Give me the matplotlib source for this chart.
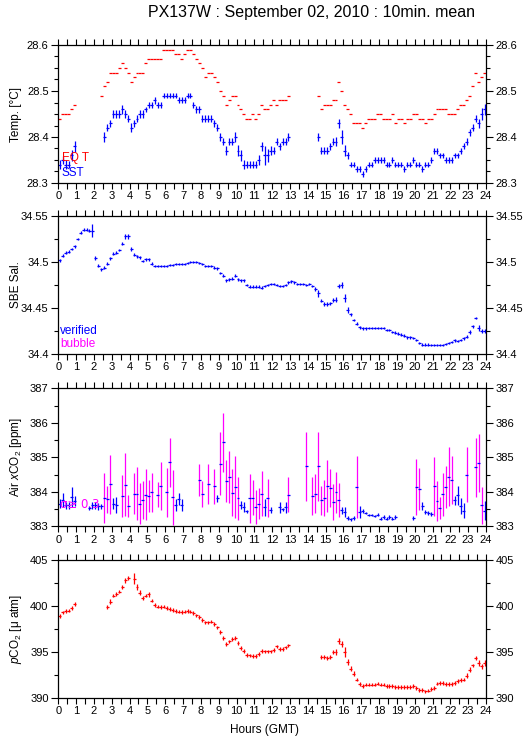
import numpy as np
import matplotlib
matplotlib.use("Agg")
import matplotlib.pyplot as plt
from matplotlib.ticker import MultipleLocator, FuncFormatter

plt.rcParams['font.family'] = ['Liberation Sans', 'DejaVu Sans']
plt.rcParams['mathtext.fontset'] = 'custom'
plt.rcParams['mathtext.rm'] = 'Liberation Sans'
plt.rcParams['mathtext.it'] = 'Liberation Sans:italic'

nan = np.nan
NONE = [nan] * 6

# 10-minute means, one row of six values per hour (GMT)
eq_temp = [
    [28.44, 28.45, 28.45, 28.45, 28.46, 28.47],
    NONE,
    [nan, nan, 28.49, 28.51, 28.52, 28.54],
    [28.54, 28.54, 28.55, 28.56, 28.55, 28.54],
    [28.52, 28.53, 28.54, 28.54, 28.54, 28.56],
    [28.57, 28.57, 28.57, 28.57, 28.57, 28.59],
    [28.59, 28.59, 28.59, 28.58, 28.58, 28.57],
    [28.58, 28.59, 28.59, 28.58, 28.57, 28.56],
    [28.55, 28.53, 28.54, 28.54, 28.53, 28.52],
    [28.50, 28.49, 28.47, 28.48, 28.49, 28.49],
    [28.47, 28.46, 28.45, 28.44, 28.44, 28.45],
    [28.44, 28.45, 28.47, 28.46, 28.46, 28.47],
    [28.48, 28.47, 28.48, 28.48, 28.48, 28.49],
    NONE,
    [nan, nan, nan, 28.49, 28.46, 28.47],
    [28.47, 28.47, 28.48, 28.48, 28.52, 28.50],
    [28.47, 28.46, 28.45, 28.43, 28.43, 28.43],
    [28.42, 28.43, 28.44, 28.44, 28.44, 28.45],
    [28.45, 28.44, 28.44, 28.44, 28.45, 28.43],
    [28.44, 28.44, 28.43, 28.44, 28.44, 28.45],
    [28.45, 28.44, 28.44, 28.43, 28.44, 28.44],
    [28.45, 28.46, 28.46, 28.46, 28.46, 28.45],
    [28.45, 28.45, 28.46, 28.47, 28.47, 28.48],
    [28.49, 28.51, 28.54, 28.52, 28.53, 28.54],
]

sst = [
    [28.34, 28.35, 28.34, 28.34, 28.36, 28.38],
    NONE,
    [nan, nan, nan, 28.40, 28.42, 28.43],
    [28.45, 28.45, 28.45, 28.46, 28.45, 28.44],
    [28.42, 28.43, 28.44, 28.45, 28.45, 28.46],
    [28.47, 28.47, 28.48, 28.47, 28.47, 28.49],
    [28.49, 28.49, 28.49, 28.49, 28.48, 28.48],
    [28.48, 28.49, 28.49, 28.47, 28.46, 28.46],
    [28.44, 28.44, 28.44, 28.44, 28.43, 28.42],
    [28.40, 28.39, 28.37, 28.39, 28.39, 28.40],
    [28.37, 28.36, 28.34, 28.34, 28.34, 28.34],
    [28.34, 28.35, 28.38, 28.36, 28.36, 28.37],
    [28.37, 28.39, 28.38, 28.39, 28.39, 28.40],
    NONE,
    [nan, nan, nan, 28.40, 28.37, 28.37],
    [28.37, 28.38, 28.39, 28.39, 28.43, 28.40],
    [28.37, 28.36, 28.34, 28.34, 28.33, 28.33],
    [28.32, 28.33, 28.34, 28.34, 28.35, 28.35],
    [28.35, 28.35, 28.34, 28.34, 28.35, 28.34],
    [28.34, 28.34, 28.33, 28.34, 28.34, 28.35],
    [28.34, 28.34, 28.33, 28.34, 28.34, 28.35],
    [28.37, 28.37, 28.36, 28.36, 28.35, 28.35],
    [28.35, 28.36, 28.36, 28.37, 28.38, 28.39],
    [28.41, 28.42, 28.44, 28.43, 28.45, 28.46],
]

sst_sd = [
    [0.010, 0.008, 0.010, 0.008, 0.012, 0.012],
    NONE,
    [nan, nan, nan, 0.010, 0.008, 0.008],
    [0.008, 0.008, 0.008, 0.010, 0.008, 0.008],
    [0.010, 0.008, 0.008, 0.008, 0.008, 0.006],
    [0.006, 0.006, 0.008, 0.006, 0.006, 0.006],
    [0.006, 0.006, 0.006, 0.006, 0.006, 0.006],
    [0.006, 0.006, 0.006, 0.006, 0.008, 0.008],
    [0.008, 0.008, 0.008, 0.008, 0.008, 0.008],
    [0.008, 0.008, 0.010, 0.008, 0.008, 0.010],
    [0.012, 0.012, 0.010, 0.008, 0.008, 0.008],
    [0.008, 0.010, 0.010, 0.020, 0.015, 0.010],
    [0.008, 0.008, 0.008, 0.008, 0.008, 0.008],
    NONE,
    [nan, nan, nan, 0.008, 0.008, 0.008],
    [0.008, 0.008, 0.008, 0.010, 0.010, 0.015],
    [0.012, 0.008, 0.006, 0.006, 0.006, 0.006],
    [0.006, 0.006, 0.006, 0.006, 0.006, 0.006],
    [0.006, 0.006, 0.006, 0.006, 0.006, 0.006],
    [0.006, 0.006, 0.006, 0.006, 0.006, 0.006],
    [0.006, 0.006, 0.006, 0.006, 0.006, 0.006],
    [0.006, 0.006, 0.006, 0.006, 0.006, 0.006],
    [0.006, 0.006, 0.006, 0.006, 0.006, 0.008],
    [0.008, 0.008, 0.008, 0.010, 0.012, 0.012],
]

salinity = [
    [34.502, 34.507, 34.510, 34.511, 34.514, 34.517],
    [34.525, 34.532, 34.535, 34.535, 34.534, 34.534],
    [34.504, 34.496, 34.492, 34.494, 34.498, 34.504],
    [34.509, 34.510, 34.513, 34.520, 34.528, 34.528],
    [34.514, 34.508, 34.506, 34.505, 34.501, 34.503],
    [34.503, 34.498, 34.496, 34.496, 34.496, 34.496],
    [34.496, 34.497, 34.497, 34.498, 34.498, 34.498],
    [34.498, 34.499, 34.500, 34.500, 34.500, 34.499],
    [34.498, 34.496, 34.496, 34.496, 34.494, 34.493],
    [34.488, 34.485, 34.480, 34.481, 34.482, 34.485],
    [34.481, 34.480, 34.480, 34.475, 34.473, 34.473],
    [34.473, 34.473, 34.472, 34.474, 34.475, 34.476],
    [34.476, 34.475, 34.474, 34.474, 34.475, 34.478],
    [34.479, 34.478, 34.476, 34.476, 34.476, 34.475],
    [34.476, 34.474, 34.471, 34.466, 34.458, 34.454],
    [34.454, 34.455, 34.459, 34.459, 34.474, 34.475],
    [34.461, 34.448, 34.443, 34.437, 34.433, 34.429],
    [34.428, 34.428, 34.428, 34.428, 34.428, 34.428],
    [34.428, 34.428, 34.426, 34.426, 34.424, 34.423],
    [34.422, 34.421, 34.420, 34.418, 34.418, 34.417],
    [34.415, 34.412, 34.410, 34.410, 34.410, 34.410],
    [34.410, 34.410, 34.410, 34.410, 34.411, 34.412],
    [34.413, 34.415, 34.414, 34.415, 34.417, 34.419],
    [34.424, 34.430, 34.439, 34.428, 34.425, 34.425],
]

sal_sd = [
    [0.0015, 0.0015, 0.0015, 0.0015, 0.0015, 0.0015],
    [0.0015, 0.0015, 0.0015, 0.0015, 0.0015, 0.0070],
    [0.0020, 0.0015, 0.0015, 0.0015, 0.0015, 0.0015],
    [0.0015, 0.0015, 0.0015, 0.0020, 0.0025, 0.0025],
    [0.0020, 0.0015, 0.0015, 0.0015, 0.0015, 0.0015],
    [0.0015, 0.0015, 0.0010, 0.0010, 0.0010, 0.0010],
    [0.0010, 0.0010, 0.0010, 0.0010, 0.0010, 0.0010],
    [0.0010, 0.0010, 0.0010, 0.0010, 0.0010, 0.0010],
    [0.0010, 0.0010, 0.0010, 0.0010, 0.0015, 0.0015],
    [0.0015, 0.0015, 0.0015, 0.0015, 0.0015, 0.0015],
    [0.0015, 0.0015, 0.0015, 0.0015, 0.0015, 0.0015],
    [0.0015, 0.0015, 0.0015, 0.0015, 0.0015, 0.0015],
    [0.0015, 0.0015, 0.0015, 0.0015, 0.0015, 0.0015],
    [0.0015, 0.0015, 0.0015, 0.0015, 0.0015, 0.0015],
    [0.0015, 0.0015, 0.0020, 0.0040, 0.0020, 0.0020],
    [0.0020, 0.0015, 0.0020, 0.0025, 0.0020, 0.0030],
    [0.0045, 0.0030, 0.0020, 0.0015, 0.0015, 0.0015],
    [0.0015, 0.0015, 0.0010, 0.0010, 0.0010, 0.0010],
    [0.0010, 0.0010, 0.0015, 0.0015, 0.0015, 0.0015],
    [0.0015, 0.0015, 0.0015, 0.0015, 0.0015, 0.0010],
    [0.0010, 0.0015, 0.0015, 0.0015, 0.0015, 0.0010],
    [0.0010, 0.0010, 0.0010, 0.0010, 0.0010, 0.0010],
    [0.0010, 0.0015, 0.0010, 0.0010, 0.0015, 0.0020],
    [0.0020, 0.0015, 0.0010, 0.0030, 0.0025, 0.0020],
]

air_xco2 = [
    [383.66, 383.76, 383.61, 383.61, 383.84, 383.74],
    [nan, nan, nan, nan, 383.53, 383.61],
    [383.61, 383.58, 383.58, 383.82, 383.78, 384.22],
    [383.66, 383.63, nan, 383.88, 384.21, 383.58],
    [nan, 383.95, 383.95, 383.66, 383.76, 383.92],
    [383.87, 383.98, nan, 383.92, 384.16, nan],
    [383.98, 384.85, 383.84, 383.61, 383.79, 383.61],
    [nan, nan, nan, nan, nan, 384.34],
    [383.93, nan, 384.24, nan, 384.16, 383.81],
    [384.82, 385.43, 384.31, 384.42, 383.97, 384.15],
    [383.81, 383.61, 383.56, 383.43, 383.81, 383.83],
    [383.56, 383.66, 383.95, 383.55, 383.81, 383.47],
    [nan, nan, 383.55, 383.49, 383.55, 383.92],
    [nan, nan, nan, nan, nan, 384.74],
    [nan, 383.87, 383.95, 384.74, 383.76, 383.82],
    [384.16, 384.10, 383.70, 383.98, 383.76, 383.47],
    [383.42, 383.24, 383.20, 383.24, 384.14, 383.42],
    [383.45, 383.39, 383.34, 383.34, 383.30, 383.34],
    [383.22, 383.27, 383.22, 383.27, 383.22, 383.27],
    [nan, nan, nan, nan, nan, 383.24],
    [384.14, 384.08, 383.59, 383.42, 383.39, 383.35],
    [384.16, 383.73, 383.53, 383.93, 384.14, 384.44],
    [384.34, 383.76, 383.90, 383.59, 383.45, 384.50],
    [nan, nan, 384.71, 384.84, 383.61, 383.45],
]

xco2_sd = [
    [0.12, 0.20, 0.10, 0.10, 0.29, 0.15],
    [nan, nan, nan, nan, 0.05, 0.10],
    [0.10, 0.10, 0.08, 0.72, 0.40, 0.85],
    [0.15, 0.23, nan, 0.60, 0.92, 0.32],
    [nan, 0.60, 0.78, 0.60, 0.55, 0.74],
    [0.46, 0.56, nan, 0.36, 0.70, nan],
    [0.70, 0.70, 0.80, 0.17, 0.17, 0.17],
    [nan, nan, nan, nan, nan, 0.46],
    [0.37, nan, 0.58, nan, 0.50, 0.10],
    [0.92, 0.86, 0.60, 0.75, 0.68, 0.90],
    [0.62, 0.12, 0.15, 0.05, 0.70, 0.50],
    [0.50, 0.45, 0.65, 0.25, 0.55, 0.09],
    [nan, nan, 0.16, 0.05, 0.16, 0.50],
    [nan, nan, nan, nan, nan, 1.00],
    [nan, 0.55, 0.56, 1.00, 0.42, 0.53],
    [0.75, 0.55, 0.53, 0.60, 0.50, 0.10],
    [0.15, 0.05, 0.05, 0.05, 0.90, 0.17],
    [0.05, 0.03, 0.03, 0.03, 0.03, 0.05],
    [0.05, 0.05, 0.05, 0.05, 0.05, 0.05],
    [nan, nan, nan, nan, nan, 0.05],
    [0.80, 0.62, 0.12, 0.05, 0.05, 0.05],
    [0.86, 0.57, 0.32, 0.62, 0.62, 0.85],
    [0.70, 0.13, 0.27, 0.22, 0.22, 0.80],
    [nan, nan, 0.85, 0.84, 0.53, 0.27],
]

pco2 = [
    [398.95, 399.30, 399.45, 399.50, 399.80, 400.20],
    NONE,
    [nan, nan, nan, nan, 399.87, 400.48],
    [401.13, 401.30, 401.57, 402.10, 402.80, 403.08],
    [nan, 402.94, 402.04, 401.46, 400.85, 401.13],
    [401.28, 400.59, 400.12, 399.94, 399.87, 399.94],
    [399.76, 399.65, 399.55, 399.47, 399.40, 399.33],
    [399.40, 399.47, 399.40, 399.22, 398.97, 398.78],
    [398.50, 398.21, 398.21, 398.30, 398.03, 397.67],
    [397.16, 396.51, 395.90, 396.15, 396.40, 396.51],
    [395.97, 395.43, 395.14, 394.70, 394.63, 394.60],
    [394.60, 394.80, 395.14, 395.07, 395.07, 395.07],
    [395.25, 395.60, 395.32, 395.32, 395.50, 395.72],
    NONE,
    [nan, nan, nan, nan, 394.45, 394.45],
    [394.34, 394.45, 395.00, 395.00, 396.20, 395.86],
    [395.00, 393.90, 393.20, 392.65, 392.00, 391.53],
    [391.28, 391.46, 391.46, 391.46, 391.46, 391.57],
    [391.46, 391.46, 391.28, 391.28, 391.28, 391.17],
    [391.17, 391.17, 391.17, 391.17, 391.20, 391.28],
    [391.10, 390.90, 390.90, 390.72, 390.80, 390.97],
    [391.10, 391.57, 391.64, 391.64, 391.53, 391.53],
    [391.53, 391.64, 391.82, 391.93, 392.00, 392.43],
    [393.08, 393.55, 394.34, 393.80, 393.44, 393.80],
]

pco2_sd = [
    [0.2, 0.2, 0.2, 0.2, 0.2, 0.2],
    NONE,
    [nan, nan, nan, nan, 0.25, 0.25],
    [0.2, 0.2, 0.2, 0.2, 0.25, 0.2],
    [nan, 0.6, 0.3, 0.25, 0.2, 0.2],
    [0.25, 0.2, 0.2, 0.2, 0.2, 0.2],
    [0.2, 0.2, 0.2, 0.2, 0.2, 0.2],
    [0.2, 0.2, 0.2, 0.2, 0.2, 0.2],
    [0.2, 0.2, 0.2, 0.2, 0.2, 0.2],
    [0.2, 0.2, 0.2, 0.2, 0.2, 0.2],
    [0.2, 0.2, 0.2, 0.2, 0.2, 0.2],
    [0.2, 0.2, 0.2, 0.2, 0.2, 0.2],
    [0.2, 0.2, 0.2, 0.2, 0.2, 0.2],
    NONE,
    [nan, nan, nan, nan, 0.2, 0.2],
    [0.25, 0.2, 0.2, 0.3, 0.35, 0.3],
    [0.5, 0.3, 0.25, 0.25, 0.2, 0.2],
    [0.2, 0.2, 0.2, 0.2, 0.2, 0.2],
    [0.2, 0.2, 0.2, 0.2, 0.2, 0.2],
    [0.2, 0.2, 0.2, 0.2, 0.2, 0.2],
    [0.2, 0.2, 0.2, 0.2, 0.2, 0.2],
    [0.2, 0.2, 0.2, 0.2, 0.2, 0.2],
    [0.2, 0.2, 0.2, 0.2, 0.2, 0.25],
    [0.25, 0.2, 0.25, 0.35, 0.3, 0.3],
]

BUBBLE_SD = 0.3   # xCO2 points with sd >= 0.3 are flagged as bubble

flat = lambda rows: np.array(rows, dtype=float).ravel()
hours = np.arange(144) / 6 + 1 / 12
half = 1 / 12

W, H = 529, 739
fig = plt.figure(figsize=(W / 100, H / 100), dpi=100)

left, width = 58.3 / W, 427.7 / W
tops = [45, 216, 388.3, 560]
ph = 138


def new_axes(top):
    return fig.add_axes([left, 1 - (top + ph) / H, width, ph / H])


def style(ax, ylo, yhi, major, minor):
    ax.set_xlim(0, 24)
    ax.set_ylim(ylo, yhi)
    ax.xaxis.set_major_locator(MultipleLocator(1))
    ax.xaxis.set_minor_locator(MultipleLocator(0.5))
    ax.yaxis.set_major_locator(MultipleLocator(major))
    ax.yaxis.set_minor_locator(MultipleLocator(minor))
    ax.yaxis.set_major_formatter(FuncFormatter(lambda v, p: '%g' % round(v, 4)))
    ax.tick_params(which='both', direction='out', top=True, right=True,
                   labelright=True, labelsize=8, width=0.8, pad=2)
    ax.tick_params(axis='x', which='both', length=4)
    ax.tick_params(axis='y', which='major', length=5)
    ax.tick_params(axis='y', which='minor', length=3)
    for s in ax.spines.values():
        s.set_linewidth(0.9)


def bars(ax, y, yerr, color):
    ax.errorbar(hours, y, xerr=half, yerr=yerr, fmt='none', ecolor=color,
                elinewidth=0.9, capsize=0)


# Panel 1: temperatures
ax1 = new_axes(tops[0])
style(ax1, 28.3, 28.6, 0.1, 0.025)
bars(ax1, flat(eq_temp), None, 'red')
bars(ax1, flat(sst), flat(sst_sd), 'blue')
ax1.text(0.008, 0.18, 'EQ T', color='red', transform=ax1.transAxes,
         fontsize=8.5, va='center')
ax1.text(0.008, 0.075, 'SST', color='blue', transform=ax1.transAxes,
         fontsize=8.5, va='center')

# Panel 2: salinity
ax2 = new_axes(tops[1])
style(ax2, 34.4, 34.55, 0.05, 0.025)
bars(ax2, flat(salinity), flat(sal_sd), 'blue')
ax2.text(0.005, 0.165, 'verified', color='blue', transform=ax2.transAxes,
         fontsize=8.5, va='center')
ax2.text(0.005, 0.072, 'bubble', color='magenta', transform=ax2.transAxes,
         fontsize=8.5, va='center')

# Panel 3: air xCO2
ax3 = new_axes(tops[2])
style(ax3, 383, 387, 1, 0.5)
xco2 = flat(air_xco2)
xsd = flat(xco2_sd)
bubble = xsd >= BUBBLE_SD
ax3.errorbar(hours[bubble], xco2[bubble], yerr=xsd[bubble], fmt='none',
             ecolor='magenta', elinewidth=0.9, capsize=0)
ax3.errorbar(hours[~bubble], xco2[~bubble], yerr=xsd[~bubble], fmt='none',
             ecolor='blue', elinewidth=0.9, capsize=0)
ax3.errorbar(hours, xco2, xerr=half, fmt='none', ecolor='blue',
             elinewidth=0.9, capsize=0)
ax3.text(0.003, 0.16, '\u03c3\u2265 %.1f' % BUBBLE_SD, color='magenta',
         transform=ax3.transAxes, fontsize=8.5, va='center',
         family=['DejaVu Sans'])

# Panel 4: pCO2
ax4 = new_axes(tops[3])
style(ax4, 390, 405, 5, 2.5)
bars(ax4, flat(pco2), flat(pco2_sd), 'red')

ylabels = ['Temp. [\u00b0C]', 'SBE Sal.', 'Air $x$CO$_2$ [ppm]',
           '$p$CO$_2$ [\u03bc atm]']
for top, lab in zip(tops, ylabels):
    fig.text(16 / W, 1 - (top + ph / 2) / H, lab, rotation=90,
             ha='center', va='center', fontsize=8.5)

fig.text(265 / W, 1 - 730 / H, 'Hours (GMT)', ha='center', va='center',
         fontsize=8.5)
fig.text(148 / W, 1 - 12 / H, 'PX137W : September 02, 2010 : 10min. mean',
         ha='left', va='center', fontsize=11.5)

fig.savefig('out.png', dpi=100)
